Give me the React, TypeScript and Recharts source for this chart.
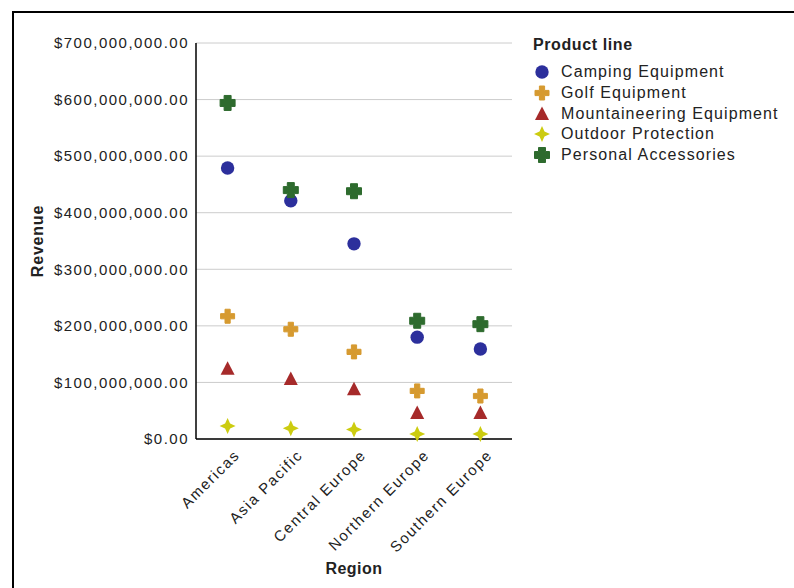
import { CartesianGrid, ComposedChart, Label, Line, XAxis, YAxis } from "recharts";

const regions = ["Americas", "Asia Pacific", "Central Europe", "Northern Europe", "Southern Europe"];
const productLines = [
  "Camping Equipment",
  "Golf Equipment",
  "Mountaineering Equipment",
  "Outdoor Protection",
  "Personal Accessories",
];
const camping = [479e6, 421e6, 345e6, 180e6, 159e6];
const golf = [217e6, 194e6, 154e6, 85e6, 76e6];
const mountaineering = [124e6, 106e6, 88e6, 46e6, 46e6];
const outdoor = [23e6, 19e6, 17e6, 9e6, 9e6];
const personal = [594e6, 440e6, 438e6, 209e6, 203e6];
const yTicks = [0, 100e6, 200e6, 300e6, 400e6, 500e6, 600e6, 700e6];

const colors = ["#2c2f9c", "#d69a30", "#a62a2a", "#cccc10", "#2e6b2e"];
const shapes = ["circle", "plus", "triangle", "star", "bigplus"];
const keys = ["camping", "golf", "mountaineering", "outdoor", "personal"];
const series = [camping, golf, mountaineering, outdoor, personal];

const data = regions.map((region, i) => {
  const row: any = { region };
  keys.forEach((k, s) => (row[k] = series[s][i]));
  return row;
});

const FONT = '"Liberation Sans", Arial, sans-serif';

function Marker({ shape, cx, cy, color }: { shape: string; cx: number; cy: number; color: string }) {
  if (shape === "circle") return <circle cx={cx} cy={cy} r={6.7} fill={color} />;
  if (shape === "triangle")
    return <polygon points={`${cx},${cy - 7.5} ${cx + 7},${cy + 6} ${cx - 7},${cy + 6}`} fill={color} />;
  if (shape === "star") {
    const a = 8, b = 2.5;
    return (
      <polygon
        points={`${cx},${cy - a} ${cx + b},${cy - b} ${cx + a},${cy} ${cx + b},${cy + b} ${cx},${cy + a} ${cx - b},${cy + b} ${cx - a},${cy} ${cx - b},${cy - b}`}
        fill={color}
      />
    );
  }
  const h = shape === "bigplus" ? 7.5 : 7;
  const t = shape === "bigplus" ? 3.5 : 2.6;
  const pts = [
    [-t, -h], [t, -h], [t, -t], [h, -t], [h, t], [t, t], [t, h], [-t, h], [-t, t], [-h, t], [-h, -t], [-t, -t],
  ];
  return (
    <polygon
      points={pts.map(([x, y]) => `${cx + x},${cy + y}`).join(" ")}
      fill={color}
      stroke={color}
      strokeWidth={1}
      strokeLinejoin="round"
    />
  );
}

const fmt = (v: number) =>
  "$" + v.toLocaleString("en-US", { minimumFractionDigits: 2, maximumFractionDigits: 2 });

function XTick({ x, y, payload }: any) {
  const ax = x + 13;
  const ay = y + 9;
  return (
    <text
      x={ax}
      y={ay}
      transform={`rotate(-45, ${ax}, ${ay})`}
      textAnchor="end"
      fontSize={15}
      letterSpacing={1.6}
      fill="#222"
      fontFamily={FONT}
    >
      {payload.value}
    </text>
  );
}

export default function App() {
  return (
    <div style={{ position: "absolute", left: 0, top: 0, width: 794, height: 588, background: "#fff" }}>
      <div
        style={{
          position: "absolute",
          left: 12,
          top: 11,
          right: 0,
          bottom: 0,
          borderLeft: "2px solid #000",
          borderTop: "2px solid #000",
        }}
      />
      <ComposedChart
        width={794}
        height={588}
        data={data}
        margin={{ top: 43, right: 282, bottom: 19, left: 46 }}
        style={{ position: "absolute", left: 0, top: 0 }}
      >
        <CartesianGrid vertical={false} stroke="#cccccc" strokeWidth={1} />
        <XAxis
          dataKey="region"
          type="category"
          interval={0}
          height={130}
          padding={{ left: 31.6, right: 31.6 }}
          axisLine={{ stroke: "#000", strokeWidth: 1.5 }}
          tickLine={false}
          tick={<XTick />}
        >
          <Label
            content={({ viewBox }: any) => (
              <text
                x={viewBox.x + viewBox.width / 2}
                y={viewBox.y + 135}
                textAnchor="middle"
                fontSize={16}
                fontWeight="bold"
                letterSpacing={0.5}
                fill="#222"
                fontFamily={FONT}
              >
                Region
              </text>
            )}
          />
        </XAxis>
        <YAxis
          width={150}
          domain={[0, 700e6]}
          ticks={yTicks}
          tickFormatter={fmt}
          axisLine={{ stroke: "#000", strokeWidth: 1.5 }}
          tickLine={false}
          tickMargin={1}
          tick={{ fontSize: 15, fill: "#222", fontFamily: FONT, letterSpacing: 1.5 }}
        >
          <Label
            content={({ viewBox }: any) => {
              const x = viewBox.x - 9;
              const y = viewBox.y + viewBox.height / 2;
              return (
                <text
                  x={x}
                  y={y}
                  transform={`rotate(-90, ${x}, ${y})`}
                  textAnchor="middle"
                  dominantBaseline="central"
                  fontSize={16}
                  fontWeight="bold"
                  letterSpacing={0.8}
                  fill="#222"
                  fontFamily={FONT}
                >
                  Revenue
                </text>
              );
            }}
          />
        </YAxis>
        {keys.map((k, s) => (
          <Line
            key={k}
            dataKey={k}
            name={productLines[s]}
            stroke="none"
            isAnimationActive={false}
            activeDot={false}
            legendType="none"
            dot={(p: any) => <Marker key={`${k}-${p.index}`} shape={shapes[s]} cx={p.cx} cy={p.cy} color={colors[s]} />}
          />
        ))}
      </ComposedChart>
      <div style={{ position: "absolute", left: 533, top: 36, fontFamily: FONT, color: "#222" }}>
        <div style={{ fontSize: 16, fontWeight: "bold", height: 26, letterSpacing: 0.6, lineHeight: "18px" }}>
          Product line
        </div>
        {productLines.map((name, s) => (
          <div key={name} style={{ display: "flex", alignItems: "center", height: 20.7 }}>
            <svg width={20} height={18} style={{ marginRight: 8 }}>
              <Marker shape={shapes[s]} cx={9} cy={9} color={colors[s]} />
            </svg>
            <span style={{ fontSize: 16, letterSpacing: 1.1, whiteSpace: "nowrap" }}>{name}</span>
          </div>
        ))}
      </div>
    </div>
  );
}
